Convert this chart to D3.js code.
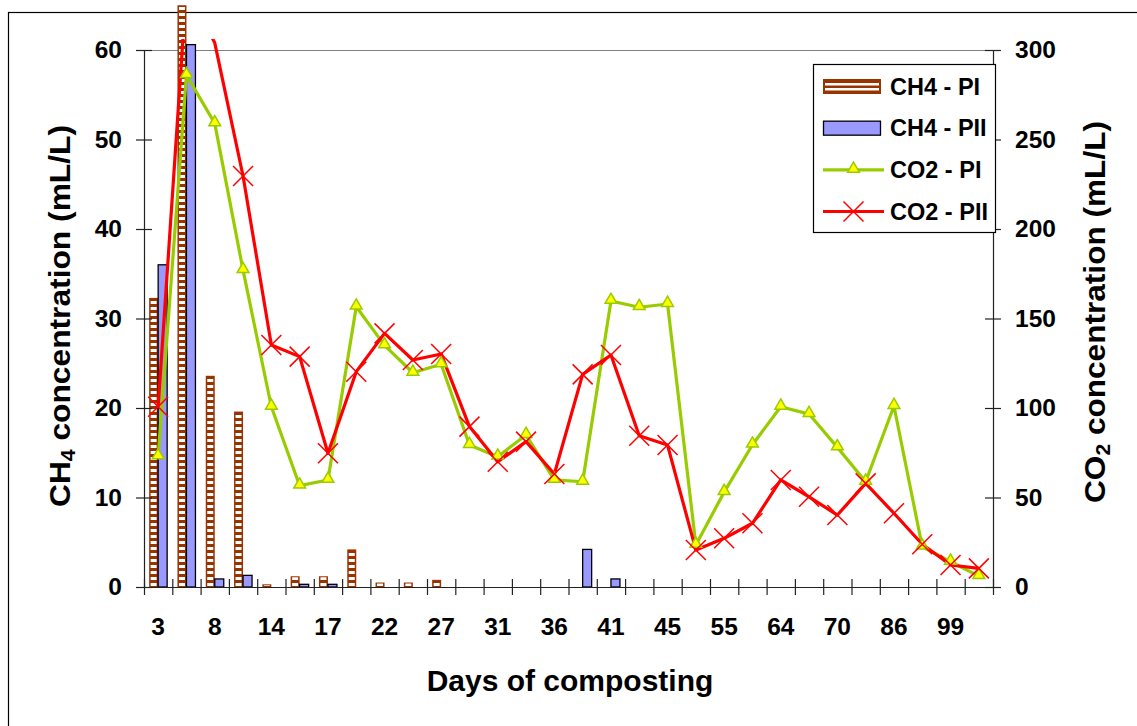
<!DOCTYPE html>
<html lang="en">
<head>
    <meta charset="UTF-8">
    <title>CH4 and CO2 concentration during composting</title>
    <style>
        body { margin: 0; background: #fff; }
        text {
            font-family: "Liberation Sans", Arial, sans-serif;
            font-weight: bold;
            fill: #000;
        }
        .axis path, .axis line { stroke: #222; stroke-width: 1.2px; }
        .tick text { font-size: 24.5px; }
        .legend text { font-size: 23.5px; }
        .title { font-size: 30px; }
    </style>
</head>
<body>
    <svg id="chart" width="1137" height="726"></svg>

    <script src="https://d3js.org/d3.v7.min.js"></script>
    <script>
        // Labels on every other sampling point (odd points are not labelled)
        const dayLabels = ["3", "8", "14", "17", "22", "27", "31", "36", "41", "45", "55", "64", "70", "86", "99"];
        const categories = d3.range(30);

        // CH4 concentration (mL/L), left axis
        const ch4PI  = [32.3, 65, 23.6, 19.6, 0.3, 1.2, 1.2, 4.2, 0.5, 0.5, 0.8, 0, 0, 0, 0,
                        0, 0, 0, 0, 0, 0, 0, 0, 0, 0, 0, 0, 0, 0, 0];
        const ch4PII = [36, 60.6, 0.9, 1.3, 0, 0.3, 0.3, 0, 0, 0, 0, 0, 0, 0, 0,
                        4.2, 0.9, 0, 0, 0, 0, 0, 0, 0, 0, 0, 0, 0, 0, 0];

        // CO2 concentration (mL/L), right axis
        const co2PI  = [73, 286, 259, 177, 100.7, 56.6, 59.8, 156.6, 135, 119.7, 124.4, 79.3, 72.8, 84.9, 59.8,
                        58.8, 159.8, 156.3, 158.1, 23.5, 53, 79.5, 100.7, 96.6, 78, 58.8, 101.1, 22.5, 14.1, 6.1];
        const co2PII = [100.7, 335, 304, 229.6, 135.2, 128.7, 74.7, 120.3, 141.7, 126.8, 130.2, 89.6, 70, 81.2, 63.1,
                        118.8, 129.6, 84.5, 79.3, 20.7, 27.2, 35.6, 59.8, 50.4, 40.2, 57.9, 41.2, 23.9, 12.3, 10.4];

        const ch4Ticks = [0, 10, 20, 30, 40, 50, 60];
        const co2Ticks = [0, 50, 100, 150, 200, 250, 300];

        const BROWN = "#993300", BLUE = "#9999FF", GREEN = "#99CC00", YELLOW = "#FFFF00", RED = "#FF0000";

        const svg = d3.select("#chart");
        const plotL = 144, plotR = 993, plotT = 50, plotB = 587;

        // outer chart frame (runs off the right and bottom edges)
        svg.append("rect")
            .attr("x", 8.5).attr("y", 12.5)
            .attr("width", 1200).attr("height", 800)
            .attr("fill", "none").attr("stroke", "#000").attr("stroke-width", 1.2);

        const x = d3.scaleBand().domain(categories).range([plotL, plotR]);
        const xb = d3.scaleBand().domain(["pi", "pii"])
            .range([(x.bandwidth() - 18) / 2, (x.bandwidth() + 18) / 2]);
        const xEdges = d3.scaleLinear().domain([0, categories.length]).range([plotL, plotR]);
        const yL = d3.scaleLinear().domain([0, 60]).range([plotB, plotT]);
        const yR = d3.scaleLinear().domain([0, 300]).range([plotB, plotT]);

        // plot area top border
        svg.append("line")
            .attr("x1", plotL - 8).attr("x2", plotR)
            .attr("y1", plotT + 0.5).attr("y2", plotT + 0.5)
            .attr("stroke", "#808080").attr("stroke-width", 1.2);

        // CH4 bars
        const bars = svg.append("g");
        categories.forEach(i => {
            const x0 = x(i);
            if (ch4PI[i] > 0) {
                const bx = x0 + xb("pi"), bw = xb.bandwidth();
                bars.append("rect")
                    .attr("x", bx).attr("y", yL(ch4PI[i]))
                    .attr("width", bw).attr("height", plotB - yL(ch4PI[i]))
                    .attr("fill", BROWN);
                // white ladder stripes inside the brown bar
                bars.append("line")
                    .attr("x1", bx + bw / 2).attr("x2", bx + bw / 2)
                    .attr("y1", plotB - 1).attr("y2", yL(ch4PI[i]) + 1)
                    .attr("stroke", "#fff").attr("stroke-width", bw - 3)
                    .attr("stroke-dasharray", "3,3");
            }
            if (ch4PII[i] > 0) {
                bars.append("rect")
                    .attr("x", x0 + xb("pii")).attr("y", yL(ch4PII[i]))
                    .attr("width", xb.bandwidth()).attr("height", plotB - yL(ch4PII[i]))
                    .attr("fill", BLUE).attr("stroke", "#000").attr("stroke-width", 1.3);
            }
        });

        // axes
        const gL = svg.append("g").attr("class", "axis")
            .attr("transform", `translate(${plotL},0)`)
            .call(d3.axisLeft(yL).tickValues(ch4Ticks).tickSizeInner(8).tickSizeOuter(0).tickPadding(14));
        gL.selectAll(".tick line").attr("x1", 8);

        const gR = svg.append("g").attr("class", "axis")
            .attr("transform", `translate(${plotR},0)`)
            .call(d3.axisRight(yR).tickValues(co2Ticks).tickSizeInner(8).tickSizeOuter(0).tickPadding(14));
        gR.selectAll(".tick line").attr("x1", -8);

        const gX = svg.append("g").attr("class", "axis")
            .attr("transform", `translate(0,${plotB})`)
            .call(d3.axisBottom(xEdges).tickValues(d3.range(categories.length + 1))
                .tickFormat("").tickSizeInner(8).tickSizeOuter(0));
        gX.selectAll(".tick line").attr("y1", -8);

        const gXL = svg.append("g")
            .attr("transform", `translate(0,${plotB})`)
            .call(d3.axisBottom(x).tickValues(categories.filter(i => i % 2 === 0))
                .tickFormat(i => dayLabels[i / 2]).tickSize(0).tickPadding(31));
        gXL.select(".domain").remove();

        [gL, gR, gXL].forEach(g => g.selectAll("text").attr("fill", "#000"));

        // CO2 lines
        svg.append("clipPath").attr("id", "lineClip")
            .append("rect").attr("x", plotL).attr("y", 39)
            .attr("width", plotR - plotL).attr("height", plotB - 39 + 20);

        const lines = svg.append("g").attr("clip-path", "url(#lineClip)");
        const cx = i => x(i) + x.bandwidth() / 2;
        const lineR = d3.line().x((d, i) => cx(i)).y(d => yR(d));

        lines.append("path").datum(co2PI)
            .attr("d", lineR).attr("fill", "none")
            .attr("stroke", GREEN).attr("stroke-width", 3.2).attr("stroke-linejoin", "round");
        lines.append("path").datum(co2PII)
            .attr("d", lineR).attr("fill", "none")
            .attr("stroke", RED).attr("stroke-width", 3.2).attr("stroke-linejoin", "round");

        const tri = d3.symbol().type(d3.symbolTriangle).size(60);
        const cross = s => `M${-s},${-s}L${s},${s}M${-s},${s}L${s},${-s}`;

        // markers are not drawn for points above the axis maximum
        lines.selectAll(".tri").data(categories.filter(i => co2PI[i] <= 300)).enter()
            .append("path")
            .attr("transform", i => `translate(${cx(i)},${yR(co2PI[i]) - 1})`)
            .attr("d", tri)
            .attr("fill", YELLOW).attr("stroke", GREEN).attr("stroke-width", 1.5);

        lines.selectAll(".xm").data(categories.filter(i => co2PII[i] <= 300)).enter()
            .append("path")
            .attr("transform", i => `translate(${cx(i)},${yR(co2PII[i])})`)
            .attr("d", cross(10))
            .attr("fill", "none").attr("stroke", RED).attr("stroke-width", 1.5);

        // axis titles
        const tL = svg.append("text").attr("class", "title")
            .attr("transform", "translate(70,316) rotate(-90)")
            .attr("text-anchor", "middle")
            .attr("textLength", 382).attr("lengthAdjust", "spacingAndGlyphs");
        tL.append("tspan").text("CH");
        tL.append("tspan").attr("font-size", "20px").attr("dy", 5).text("4");
        tL.append("tspan").attr("dy", -5).text(" concentration (mL/L)");

        const tR = svg.append("text").attr("class", "title")
            .attr("transform", "translate(1105,312) rotate(-90)")
            .attr("text-anchor", "middle")
            .attr("textLength", 382).attr("lengthAdjust", "spacingAndGlyphs");
        tR.append("tspan").text("CO");
        tR.append("tspan").attr("font-size", "20px").attr("dy", 5).text("2");
        tR.append("tspan").attr("dy", -5).text(" concentration (mL/L)");

        svg.append("text").attr("class", "title")
            .attr("x", 570).attr("y", 691)
            .attr("text-anchor", "middle")
            .text("Days of composting");

        // legend
        const legend = svg.append("g").attr("class", "legend");
        legend.append("rect")
            .attr("x", 813.5).attr("y", 64.5).attr("width", 182).attr("height", 168)
            .attr("fill", "#fff").attr("stroke", "#000").attr("stroke-width", 1.2);

        const items = [
            { name: "CH4 - PI", kind: "pi" },
            { name: "CH4 - PII", kind: "pii" },
            { name: "CO2 - PI", kind: "lpi" },
            { name: "CO2 - PII", kind: "lpii" }
        ];
        const ly = d3.scalePoint().domain(items.map(d => d.name)).range([86.5, 211.5]);

        items.forEach(d => {
            const yc = ly(d.name);
            const g = legend.append("g");
            if (d.kind === "pi") {
                g.append("rect").attr("x", 823).attr("y", yc - 7.5).attr("width", 58).attr("height", 15)
                    .attr("fill", BROWN);
                g.append("rect").attr("x", 825).attr("y", yc - 3.5).attr("width", 54).attr("height", 2.5).attr("fill", "#fff");
                g.append("rect").attr("x", 825).attr("y", yc + 1.5).attr("width", 54).attr("height", 2.5).attr("fill", "#fff");
            } else if (d.kind === "pii") {
                g.append("rect").attr("x", 823.5).attr("y", yc - 7).attr("width", 57).attr("height", 14)
                    .attr("fill", BLUE).attr("stroke", "#000").attr("stroke-width", 1.3);
            } else {
                const col = d.kind === "lpi" ? GREEN : RED;
                g.append("line").attr("x1", 823).attr("x2", 884).attr("y1", yc).attr("y2", yc)
                    .attr("stroke", col).attr("stroke-width", 3.2);
                if (d.kind === "lpi") {
                    g.append("path").attr("transform", `translate(853.5,${yc - 1})`).attr("d", tri)
                        .attr("fill", YELLOW).attr("stroke", GREEN).attr("stroke-width", 1.5);
                } else {
                    g.append("path").attr("transform", `translate(853.5,${yc})`).attr("d", cross(10))
                        .attr("fill", "none").attr("stroke", RED).attr("stroke-width", 1.5);
                }
            }
            g.append("text").attr("x", 890).attr("y", yc + 8).text(d.name);
        });
    </script>
</body>
</html>
